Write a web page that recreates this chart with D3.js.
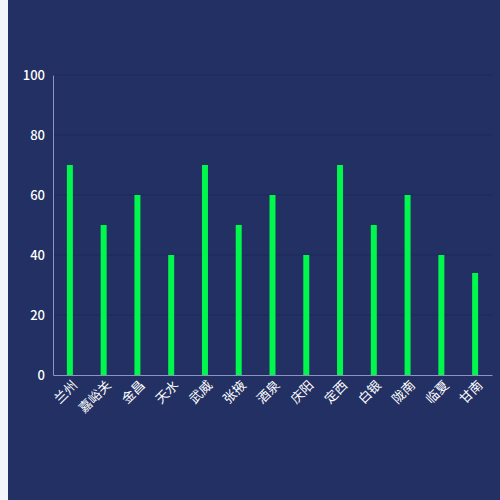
<!DOCTYPE html>
<html>
<head>
<meta charset="utf-8">
<script src="https://cdn.jsdelivr.net/npm/d3@7"></script>
<style>
  html, body { margin: 0; padding: 0; background: #f3f4f9; }
  #chart { position: absolute; left: 8px; top: 0; width: 492px; height: 500px; background: #233063; }
  .tick text { font-family: "Noto Sans CJK SC", "Noto Sans", sans-serif; }
</style>
</head>
<body>
<div id="chart"></div>
<script>
// city names and their values
const cities = ['兰州', '嘉峪关', '金昌', '天水', '武威', '张掖', '酒泉', '庆阳', '定西', '白银', '陇南', '临夏', '甘南'];
const values = [70, 50, 60, 40, 70, 50, 60, 40, 70, 50, 60, 40, 34];
const yTicks = [0, 20, 40, 60, 80, 100];

const elem = document.getElementById('chart');
const width = 492;
const height = 500;
const margin = { top: 75, right: 8, bottom: 125, left: 45 };

const svg = d3.select(elem)
    .append('svg')
    .attr('width', width)
    .attr('height', height);

const xScale = d3.scaleBand()
    .domain(cities)
    .range([margin.left, width - margin.right]);

const yScale = d3.scaleLinear()
    .domain([0, 100])
    .range([height - margin.bottom, margin.top]);

// faint grid lines
svg.append('g')
    .selectAll('line')
    .data(yTicks.slice(1))
    .enter()
    .append('line')
    .attr('x1', margin.left)
    .attr('x2', width - margin.right)
    .attr('y1', d => yScale(d))
    .attr('y2', d => yScale(d))
    .attr('stroke', '#1d2858')
    .attr('stroke-width', 1);

const barWidth = 6;
svg.selectAll('rect.bar')
    .data(values)
    .enter()
    .append('rect')
    .attr('class', 'bar')
    .attr('x', (d, i) => xScale(cities[i]) + xScale.bandwidth() / 2 - barWidth / 2)
    .attr('y', d => yScale(d))
    .attr('width', barWidth)
    .attr('height', d => yScale(0) - yScale(d))
    .attr('fill', '#00f74b');

const xAxis = svg.append('g')
    .attr('transform', 'translate(0,' + yScale(0) + ')')
    .call(d3.axisBottom(xScale).tickSize(0).tickPadding(6));
xAxis.select('.domain').attr('stroke', '#8c93c4');
xAxis.selectAll('text')
    .attr('fill', '#ffffff')
    .attr('font-size', 13)
    .attr('text-anchor', 'end')
    .attr('dy', '0.9em')
    .attr('transform', 'rotate(-45) translate(-2,-4)');

const yAxis = svg.append('g')
    .attr('transform', 'translate(' + margin.left + ',0)')
    .call(d3.axisLeft(yScale).tickValues(yTicks).tickSize(0).tickPadding(8));
yAxis.select('.domain').attr('stroke', '#8c93c4');
yAxis.selectAll('text')
    .attr('fill', '#ffffff')
    .attr('font-size', 13)
    .attr('font-weight', 500)
    .attr('font-family', 'Roboto, "Noto Sans", sans-serif');
</script>
</body>
</html>
